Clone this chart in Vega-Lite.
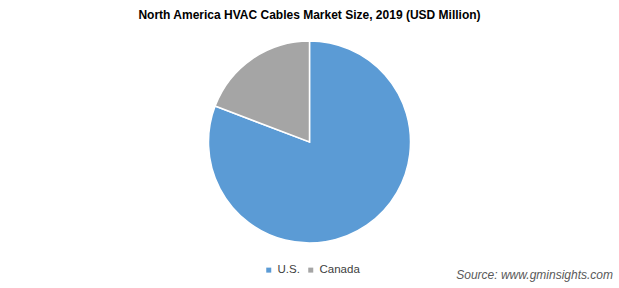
{
  "$schema": "https://vega.github.io/schema/vega-lite/v6.json",
  "width": 619,
  "height": 284,
  "autosize": {"type": "none"},
  "padding": {"left": 0, "top": 0, "right": 0, "bottom": 4},
  "background": "white",
  "title": {
    "text": "North America HVAC Cables Market Size, 2019 (USD Million)",
    "font": "Liberation Sans",
    "fontSize": 12,
    "fontWeight": "bold",
    "color": "#000000",
    "anchor": "middle",
    "offset": -22
  },
  "data": {"values": [
    {"country": "U.S.", "share": 80.8},
    {"country": "Canada", "share": 19.2}
  ]},
  "layer": [
    {
      "mark": {"type": "arc", "radius": 101, "stroke": "white", "strokeWidth": 1.5},
      "encoding": {
        "theta": {"field": "share", "type": "quantitative", "stack": true},
        "order": {"field": "country", "sort": "descending"},
        "color": {
          "field": "country",
          "type": "nominal",
          "sort": ["U.S.", "Canada"],
          "scale": {"domain": ["U.S.", "Canada"], "range": ["#5B9BD5", "#A5A5A5"]},
          "legend": {
            "title": null,
            "orient": "none",
            "direction": "horizontal",
            "legendX": 263,
            "legendY": 264,
            "symbolType": "square",
            "symbolSize": 25,
            "symbolStrokeWidth": 0,
            "labelFont": "Liberation Sans",
            "labelFontSize": 11.5,
            "labelColor": "#404040",
            "columnPadding": 5,
            "labelOffset": 3
          }
        }
      }
    },
    {
      "data": {"values": [{"label": "Source: www.gminsights.com"}]},
      "mark": {
        "type": "text",
        "align": "right",
        "baseline": "bottom",
        "font": "Liberation Sans",
        "fontSize": 12,
        "fontStyle": "italic",
        "color": "#595959",
        "x": {"expr": "width - 6"},
        "y": {"expr": "height - 2"}
      },
      "encoding": {"text": {"field": "label", "type": "nominal"}}
    }
  ]
}
